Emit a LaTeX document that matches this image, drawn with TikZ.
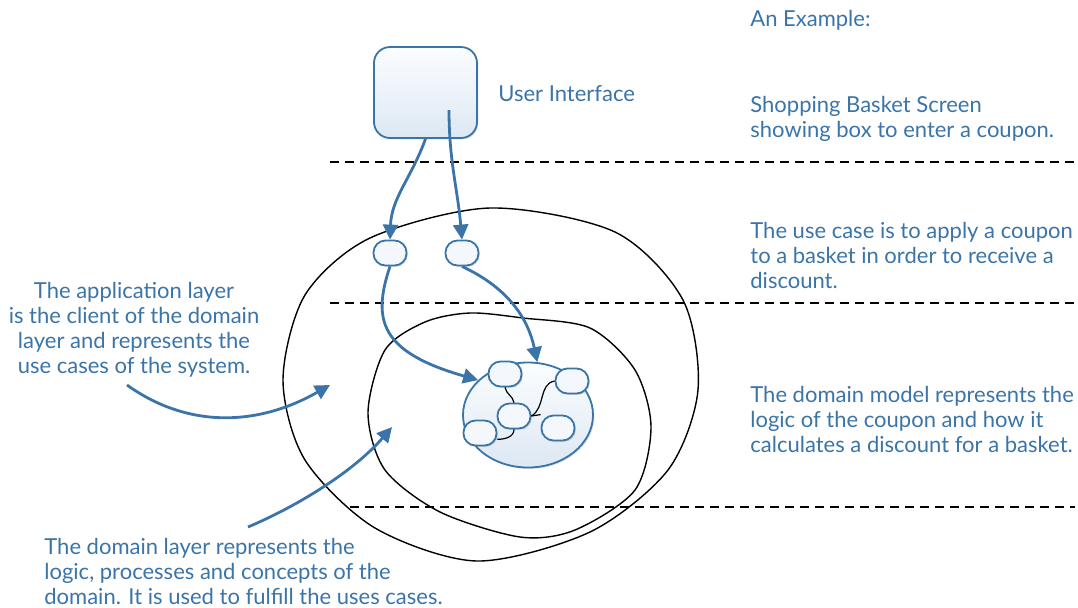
\documentclass[tikz,border=0pt]{standalone}
\usepackage{fontspec}
\setmainfont{Lato}
\usetikzlibrary{arrows.meta,shapes.geometric,shadows}
\definecolor{layerblue}{HTML}{3A74A8}
\definecolor{boxtop}{HTML}{FBFDFF}
\definecolor{boxbot}{HTML}{DDE8F3}
\definecolor{objfill}{HTML}{F4F8FC}

\begin{document}
\begin{tikzpicture}[
    x=0.5pt, y=-0.5pt,
    note/.style={text=layerblue, font=\fontsize{11}{12.5}\selectfont, inner sep=0pt},
    obj/.style={rectangle, draw=layerblue, line width=0.9pt, fill=objfill, rounded corners=6pt, minimum width=16.5pt, minimum height=12.5pt, inner sep=0pt,
        drop shadow={shadow xshift=0.7pt, shadow yshift=-0.7pt, opacity=0.25}},
    flow/.style={-{Triangle[length=7.5pt,width=7.5pt]}, draw=layerblue, line width=1.4pt},
    link/.style={draw=black, line width=0.6pt},
    layer/.style={draw=black, line width=0.7pt},
    divider/.style={draw=black, line width=0.6pt, dash pattern=on 4.5pt off 3pt}
]
\useasboundingbox (0,0) rectangle (1078,607);

% layer dividers
\coordinate (D1a) at (330,162);  \coordinate (D1b) at (1075,162);
\coordinate (D2a) at (330,303);  \coordinate (D2b) at (1075,303);
\coordinate (D3a) at (350,507);  \coordinate (D3b) at (1075,507);
\draw[divider] (D1a) -- (D1b);
\draw[divider] (D2a) -- (D2b);
\draw[divider] (D3a) -- (D3b);

% application layer and domain layer outlines
\draw[layer] plot[smooth cycle] coordinates {(490,208) (615,232) (683,300) (698,390) (668,470) (590,532) (477,561) (375,528) (305,460) (283,380) (305,295) (370,238)};
\draw[layer] plot[smooth cycle] coordinates {(470,313) (523,318) (590,328) (635,370) (651,427) (635,490) (575,530) (520,537) (440,512) (385,470) (368,413) (385,350) (425,322)};

% user interface
\node[rectangle, draw=layerblue, line width=0.9pt, rounded corners=8pt, top color=boxtop, bottom color=boxbot,
      minimum width=51.5pt, minimum height=45.5pt, drop shadow={shadow xshift=0.7pt, shadow yshift=-0.7pt, opacity=0.25}] (UI) at (425.5,92.5) {};
\node[note, anchor=west] (UIlabel) at (498,94) {User Interface};
\coordinate (UIr) at (449,110);

% use cases
\node[obj] (A1) at (390,253) {};
\node[obj] (A2) at (462,253) {};

% domain model
\node[ellipse, draw=layerblue, line width=0.9pt, top color=boxtop, bottom color=boxbot, minimum width=65pt, minimum height=52.5pt,
      drop shadow={shadow xshift=0.7pt, shadow yshift=-0.7pt, opacity=0.25}] (DM) at (528,415) {};
\node[obj] (M1) at (505,374) {};
\node[obj] (M2) at (572,381) {};
\node[obj] (M3) at (514,416) {};
\node[obj] (M4) at (480,433) {};
\node[obj] (M5) at (558,428) {};
\draw[link] (M1.south) to[out=-80,in=100] (M3.north);
\draw[link] (M2.west) to[out=190,in=30] (M3.east);
\draw[link] (M3.east) -- (M5.north west);
\draw[link] (M3.south) to[out=-90,in=0] (M4.-20);

% flows
\draw[flow] (UI.south) to[out=-110,in=88] (A1.north);
\draw[flow] (UIr) to[out=-90,in=95] (A2.north);
\draw[flow] (A1.south) .. controls (372,320) and (380,352) .. (DM.145);
\draw[flow] (A2.south) to[out=-25,in=102] (DM.80);

% annotations
\coordinate (N1s) at (127,385);
\coordinate (N1e) at (330,385);
\coordinate (N2s) at (248,527);
\coordinate (N2e) at (392,427);
\draw[flow] (N1s) .. controls (190,430) and (260,425) .. (N1e);
\draw[flow] (N2s) .. controls (300,505) and (355,470) .. (N2e);

\node[note, anchor=west] (T0) at (750,20) {An Example:};
\node[note, anchor=west, align=left] (T1) at (750,119) {Shopping Basket Screen\\showing box to enter a coupon.};
\node[note, anchor=west, align=left] (T2) at (750,255) {The use case is to apply a coupon\\to a basket in order to receive a\\discount.};
\node[note, anchor=west, align=left] (T3) at (750,419) {The domain model represents the\\logic of the coupon and how it\\calculates a discount for a basket.};
\node[note, align=center] (T4) at (134,330) {The application layer\\is the client of the domain\\layer and represents the\\use cases of the system.};
\node[note, anchor=west, align=left] (T5) at (44,571) {The domain layer represents the\\logic, processes and concepts of the\\domain. It is used to fulfill the uses cases.};
\end{tikzpicture}
\end{document}
